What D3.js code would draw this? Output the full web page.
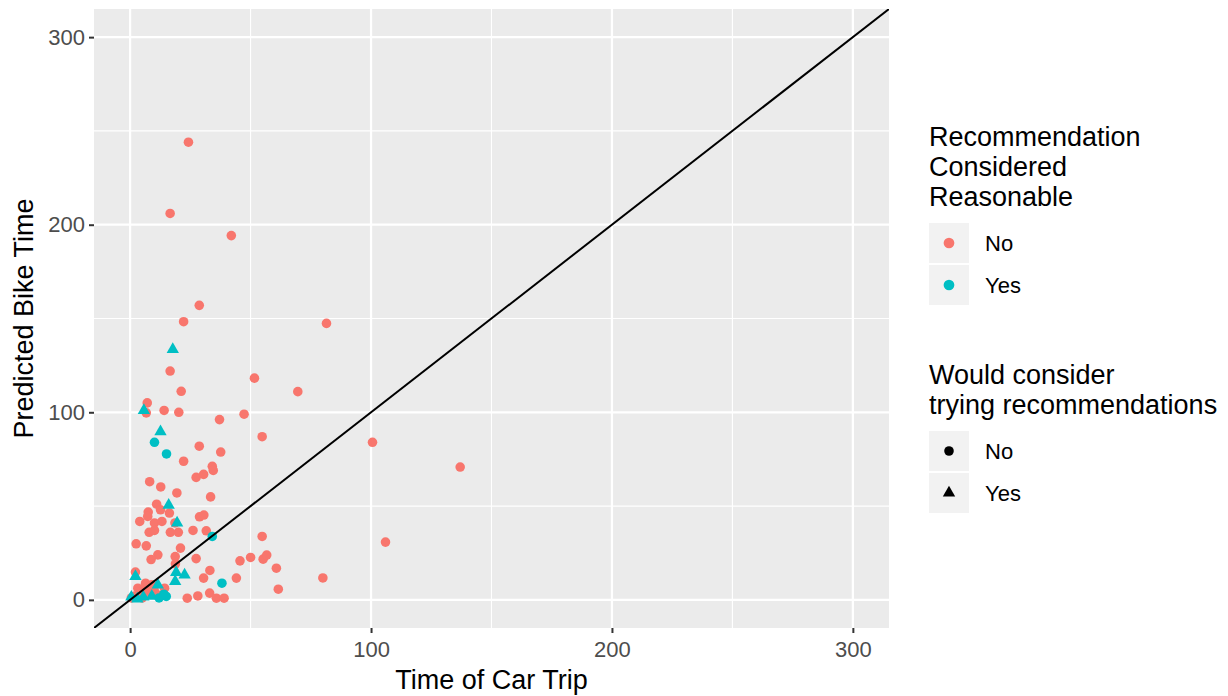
<!DOCTYPE html>
<html>
<head>
<meta charset="utf-8">
<script src="https://cdn.jsdelivr.net/npm/d3@7"></script>
<style>
  body { margin: 0; background: #fff; }
  svg { font-family: "Liberation Sans", Arial, sans-serif; }
</style>
</head>
<body>
<svg></svg>
<script>
// points (car trip time, predicted bike time)
var carTime = [
  24.2, 16.6, 42, 28.7, 22.2, 81.5, 51.6, 16.6, 69.6, 21.2,
  7.1, 6.7, 14.1, 20.2, 47.3, 37.1, 54.8, 28.7, 37.6, 22.2,
  34.1, 34.5, 27.4, 30.5, 8.1, 100.6, 137, 106, 80, 12.7,
  19.4, 33.4, 11, 12.6, 16.3, 7.5, 7.3, 4, 10.1, 13.2,
  18.6, 28.8, 30.6, 26.1, 31.6, 7.9, 10.1, 16.7, 20, 2.5,
  6.7, 20.9, 11.5, 18.7, 27.4, 8.7, 54.8, 45.6, 50, 55.2,
  56.7, 60.7, 61.5, 33.1, 30.5, 44.1, 2.2, 6.4, 3.2, 14.3,
  33, 35.8, 39, 28.1, 23.7, 18.8, 0.5, 2, 4, 6,
  8, 10, 12, 5, 9, 7,
  10.1, 15.1, 34.1, 38.1, 15, 12, 14,
  17.7, 5.7, 12.6, 16, 19.5, 2.2, 19.1, 22.6, 18.7, 11.5,
  0.5, 3, 5.5, 9
];
var bikeTime = [
  244, 206, 194.2, 157, 148.3, 147.4, 118.2, 122, 111, 111.2,
  105, 99.7, 101, 100, 99, 96.1, 87, 81.9, 78.8, 73.9,
  71.2, 69, 65.3, 66.9, 63, 84, 70.8, 30.8, 11.7, 60.2,
  57, 54.9, 51, 48, 46.3, 46.8, 44.5, 41.8, 41, 41.8,
  41, 44.3, 45.2, 37, 36.8, 36, 37, 36, 36, 29.9,
  28.8, 27.6, 24, 23.1, 22, 21.5, 33.8, 20.8, 22.6, 21.7,
  23.9, 16.9, 5.7, 15.7, 11.6, 11.6, 14.8, 8.9, 6.2, 6.2,
  3.6, 0.9, 0.9, 2.1, 0.9, 19.2, 1, 2, 4, 6,
  3, 5, 2.5, 1, 8, 3.5,
  84, 77.8, 33.8, 8.9, 1.8, 1, 3,
  133.5, 101, 89.7, 50.5, 41, 12.5, 14.6, 13.3, 9.8, 8,
  1.5, 0.5, 1.5, 2
];
// "Recommendation Considered Reasonable"
var reasonable = [].concat(
  d3.range(86).map(function() { return 'No'; }),
  d3.range(21).map(function() { return 'Yes'; })
);
// "Would consider trying recommendations"
var wouldTry = [].concat(
  d3.range(93).map(function() { return 'No'; }),
  d3.range(14).map(function() { return 'Yes'; })
);
var xTicks = [0, 100, 200, 300];
var yTicks = [0, 100, 200, 300];
var minorTicks = [50, 150, 250];
var levels = ['No', 'Yes'];

var svgWidth = 1228, svgHeight = 696;
var panel = {left: 94, right: 889, top: 9, bottom: 628};

var svg = d3.select('svg')
  .attr('width', svgWidth)
  .attr('height', svgHeight);

var xScale = d3.scaleLinear().domain([-15, 315]).range([panel.left, panel.right]);
var yScale = d3.scaleLinear().domain([-15, 315]).range([panel.bottom, panel.top]);
var colour = d3.scaleOrdinal().domain(levels).range(['#F8766D', '#00BFC4']);
var shape = d3.scaleOrdinal().domain(levels).range([d3.symbolCircle, d3.symbolTriangle]);
var symSize = {No: 72, Yes: 66};

// panel + grid
svg.append('rect')
  .attr('x', panel.left).attr('y', panel.top)
  .attr('width', panel.right - panel.left)
  .attr('height', panel.bottom - panel.top)
  .attr('fill', '#EBEBEB');

var grid = svg.append('g');
minorTicks.forEach(function(v) {
  grid.append('line').attr('x1', xScale(v)).attr('x2', xScale(v))
    .attr('y1', panel.top).attr('y2', panel.bottom)
    .attr('stroke', '#fff').attr('stroke-width', 1.1);
  grid.append('line').attr('y1', yScale(v)).attr('y2', yScale(v))
    .attr('x1', panel.left).attr('x2', panel.right)
    .attr('stroke', '#fff').attr('stroke-width', 1.1);
});
xTicks.forEach(function(v) {
  grid.append('line').attr('x1', xScale(v)).attr('x2', xScale(v))
    .attr('y1', panel.top).attr('y2', panel.bottom)
    .attr('stroke', '#fff').attr('stroke-width', 2.2);
});
yTicks.forEach(function(v) {
  grid.append('line').attr('y1', yScale(v)).attr('y2', yScale(v))
    .attr('x1', panel.left).attr('x2', panel.right)
    .attr('stroke', '#fff').attr('stroke-width', 2.2);
});

// points: reds first, then teal on top
var idx = d3.range(carTime.length).sort(function(a, b) {
  return levels.indexOf(reasonable[a]) - levels.indexOf(reasonable[b]);
});
svg.append('g').selectAll('path')
  .data(idx)
  .enter()
  .append('path')
  .attr('transform', function(i) {
    return 'translate(' + xScale(carTime[i]) + ',' + yScale(bikeTime[i]) + ')';
  })
  .attr('d', function(i) {
    return d3.symbol().type(shape(wouldTry[i])).size(symSize[wouldTry[i]])();
  })
  .attr('fill', function(i) { return colour(reasonable[i]); });

// y = x reference line
svg.append('clipPath').attr('id', 'clip')
  .append('rect')
  .attr('x', panel.left).attr('y', panel.top)
  .attr('width', panel.right - panel.left)
  .attr('height', panel.bottom - panel.top);

svg.append('line')
  .attr('clip-path', 'url(#clip)')
  .attr('x1', xScale(-15)).attr('y1', yScale(-15))
  .attr('x2', xScale(315)).attr('y2', yScale(315))
  .attr('stroke', '#000').attr('stroke-width', 2);

// axes
var x_axis = d3.axisBottom(xScale).tickValues(xTicks).tickSize(5).tickPadding(4);
var y_axis = d3.axisLeft(yScale).tickValues(yTicks).tickSize(5).tickPadding(4);

var gx = svg.append('g')
  .attr('transform', 'translate(0,' + panel.bottom + ')')
  .call(x_axis);
var gy = svg.append('g')
  .attr('transform', 'translate(' + panel.left + ',0)')
  .call(y_axis);

[gx, gy].forEach(function(g) {
  g.select('.domain').remove();
  g.selectAll('.tick line').attr('stroke', '#333').attr('stroke-width', 2);
  g.selectAll('.tick text')
    .attr('fill', '#4D4D4D')
    .style('font-size', '22px');
});
gx.selectAll('.tick text').attr('dy', '0.9em');

svg.append('text')
  .attr('x', (panel.left + panel.right) / 2)
  .attr('y', 689)
  .attr('text-anchor', 'middle')
  .style('font-size', '27px')
  .text('Time of Car Trip');

svg.append('text')
  .attr('transform', 'translate(33,' + ((panel.top + panel.bottom) / 2) + ') rotate(-90)')
  .attr('text-anchor', 'middle')
  .style('font-size', '27px')
  .text('Predicted Bike Time');

// legends
function legend(y0, titleLines, draw) {
  var g = svg.append('g').attr('transform', 'translate(929,' + y0 + ')');
  titleLines.forEach(function(t, k) {
    g.append('text').attr('x', 0).attr('y', k * 30)
      .style('font-size', '27px').text(t);
  });
  var top = (titleLines.length - 1) * 30 + 17;
  levels.forEach(function(lv, k) {
    var ky = top + k * 42;
    g.append('rect').attr('x', 0).attr('y', ky)
      .attr('width', 40).attr('height', 40).attr('fill', '#F2F2F2');
    draw(g.append('path').attr('transform', 'translate(20,' + (ky + 20) + ')'), lv);
    g.append('text').attr('x', 56).attr('y', ky + 20).attr('dy', '0.36em')
      .style('font-size', '22px').text(lv);
  });
}

legend(146, ['Recommendation', 'Considered', 'Reasonable'], function(p, lv) {
  p.attr('d', d3.symbol().type(d3.symbolCircle).size(90)()).attr('fill', colour(lv));
});
legend(384, ['Would consider', 'trying recommendations'], function(p, lv) {
  p.attr('d', d3.symbol().type(shape(lv)).size(symSize[lv])()).attr('fill', '#000');
});
</script>
</body>
</html>
